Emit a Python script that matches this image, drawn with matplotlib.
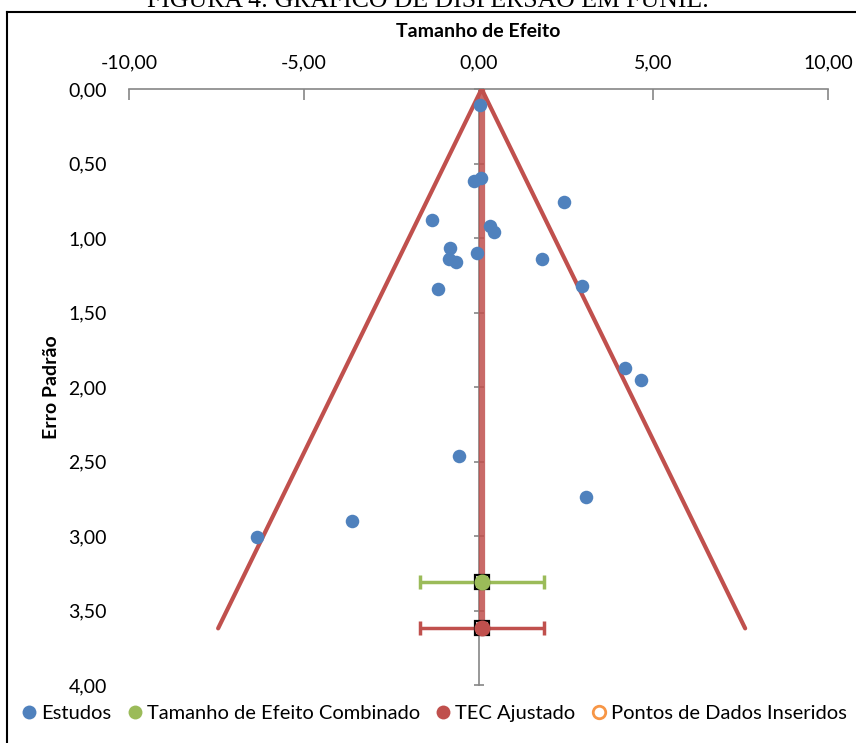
import matplotlib
matplotlib.use("Agg")
import matplotlib.pyplot as plt
from matplotlib.lines import Line2D

plt.rcParams["font.family"] = ["Lato", "DejaVu Sans"]

# estudos: tamanho de efeito x erro padrão
study_effect = [0.04, 0.06, -0.13, 2.45, -1.34, 0.33, 0.45, -0.82, -0.84, -0.63,
                -0.03, 1.81, -1.16, 2.96, 4.19, 4.65, -0.56, 3.08, -3.61, -6.33]
study_se = [0.11, 0.60, 0.62, 0.76, 0.88, 0.92, 0.96, 1.07, 1.14, 1.16,
            1.10, 1.14, 1.34, 1.32, 1.87, 1.95, 2.46, 2.74, 2.90, 3.01]

# tamanho de efeito combinado e TEC ajustado (IC 95%)
combined = {"effect": 0.09, "se": 3.31, "low": -1.68, "high": 1.88}
adjusted = {"effect": 0.09, "se": 3.62, "low": -1.68, "high": 1.88}

# funil
funnel_center = 0.09
funnel_se = 3.62
funnel_left = -7.45
funnel_right = 7.63

x_ticks = [-10, -5, 0, 5, 10]
y_ticks = [0, 0.5, 1.0, 1.5, 2.0, 2.5, 3.0, 3.5, 4.0]

BLUE = "#4F81BD"
GREEN = "#9BBB59"
RED = "#C0504D"
ORANGE = "#F79646"
GRAY = "#868686"


def fmt(v):
    return f"{v:.2f}".replace(".", ",")


fig = plt.figure(figsize=(8.56, 7.43), dpi=100)
ax = fig.add_axes([129 / 856, 1 - 685 / 743, 699 / 856, 596 / 743])

# funnel lines
ax.plot([funnel_left, funnel_center, funnel_right], [funnel_se, 0, funnel_se],
        color=RED, lw=3.0, solid_capstyle="round", solid_joinstyle="miter", zorder=3)
ax.plot([funnel_center, funnel_center], [0, funnel_se], color=RED, lw=4.5,
        alpha=0.85, zorder=3)

ax.scatter(study_effect, study_se, s=95, color=BLUE, zorder=5, linewidths=0)

for res, col in [(combined, GREEN), (adjusted, RED)]:
    ax.errorbar(res["effect"], res["se"],
                xerr=[[res["effect"] - res["low"]], [res["high"] - res["effect"]]],
                fmt="none", ecolor=col, elinewidth=2.5, capsize=5, capthick=2.5, zorder=4)
    ax.plot(res["effect"], res["se"], marker="s", ms=9.5, mfc="none", mec="black",
            mew=1.6, zorder=5)
    ax.plot(res["effect"], res["se"], marker="o", ms=11.5, color=col, mew=0, zorder=6)

ax.set_xlim(-10, 10)
ax.set_ylim(4, 0)

# x axis on top
ax.xaxis.tick_top()
ax.xaxis.set_label_position("top")
ax.set_xticks(x_ticks)
ax.set_xticklabels([fmt(v) for v in x_ticks])
ax.tick_params(axis="x", direction="in", length=8, width=1.2, color=GRAY,
               labelsize=14, pad=13)
ax.set_xlabel("Tamanho de Efeito", fontsize=14, fontweight="bold", labelpad=12)

# y labels at the left, axis line at x = 0
ax.set_yticks(y_ticks)
ax.set_yticklabels([fmt(v) for v in y_ticks])
ax.tick_params(axis="y", length=0, labelsize=14, pad=16)
ax.set_ylabel("Erro Padrão", fontsize=14, fontweight="bold", labelpad=6)

for side in ["left", "right", "bottom"]:
    ax.spines[side].set_visible(False)
ax.spines["top"].set_color(GRAY)
ax.spines["top"].set_linewidth(1.2)

sec = ax.secondary_yaxis(0.5)
sec.set_yticks(y_ticks)
sec.tick_params(axis="y", direction="inout", length=7, width=1.2, color=GRAY,
                labelleft=False, labelright=False)
for sp in sec.spines.values():
    sp.set_color(GRAY)
    sp.set_linewidth(1.2)

handles = [
    Line2D([], [], ls="none", marker="o", ms=10, color=BLUE, mew=0),
    Line2D([], [], ls="none", marker="o", ms=10, color=GREEN, mew=0),
    Line2D([], [], ls="none", marker="o", ms=10, color=RED, mew=0),
    Line2D([], [], ls="none", marker="o", ms=9, mfc="white", mec=ORANGE, mew=2),
]
labels = ["Estudos", "Tamanho de Efeito Combinado", "TEC Ajustado",
          "Pontos de Dados Inseridos"]
fig.legend(handles, labels, loc="center", bbox_to_anchor=(435 / 856, 1 - 713 / 743),
           ncol=4, frameon=False, fontsize=14.5, handlelength=0.6, handletextpad=0.3,
           columnspacing=0.85, borderpad=0)

# page frame and caption
fig.add_artist(Line2D([7 / 856, 1], [1 - 12 / 743, 1 - 12 / 743], color="black", lw=1.5))
fig.add_artist(Line2D([7 / 856, 7 / 856], [0, 1 - 12 / 743], color="black", lw=1.5))
fig.text(428 / 856, 1 - 7 / 743, "FIGURA 4: GRÁFICO DE DISPERSÃO EM FUNIL.",
         ha="center", va="baseline", fontsize=18.5,
         family=["Liberation Serif", "DejaVu Serif"])

fig.savefig("out.png", dpi=100)
